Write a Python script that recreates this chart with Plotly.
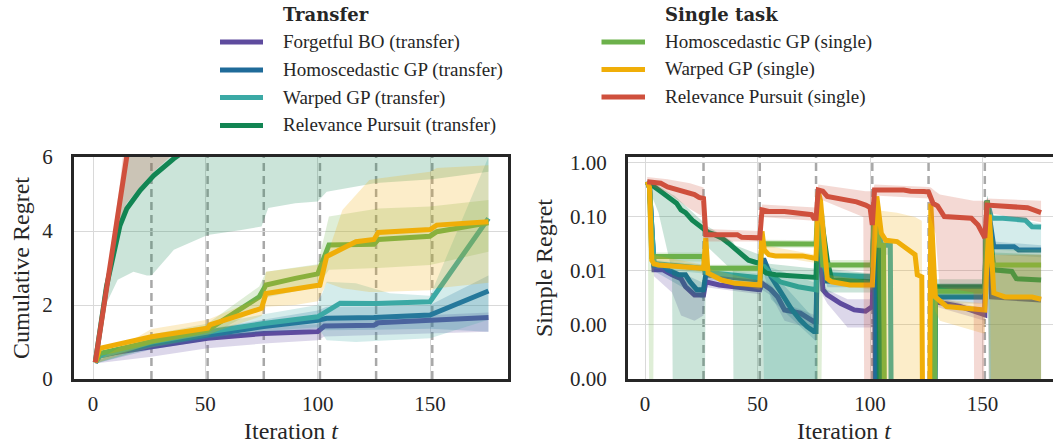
import numpy as np
import plotly.graph_objects as go

W, H = 1053, 446
FONT = "Liberation Serif"
TICK_SIZE = 21
TITLE_SIZE = 24
LEGEND_SIZE = 19

# iteration after which a new task starts
TASK_SWITCHES = [26, 51, 76, 101, 126, 151]

# ---------------- cumulative regret ----------------
CR_T_FBO = [1, 3, 26, 51, 76, 100, 103, 125, 127, 150, 176]
CR_FBO = [0.45, 0.65, 0.87, 1.10, 1.23, 1.28, 1.43, 1.45, 1.52, 1.58, 1.66]
CR_BT_FBO = [1, 26, 51, 76, 100, 103, 126, 150, 176]
CR_LO_FBO = [0.42, 0.60, 0.83, 0.96, 1.05, 1.15, 1.18, 1.23, 1.28]
CR_HI_FBO = [0.48, 1.05, 1.30, 1.42, 1.48, 1.62, 1.66, 1.72, 1.80]

CR_T_HGP = [1, 3, 26, 51, 76, 100, 104, 125, 150, 176]
CR_HGP = [0.45, 0.62, 0.95, 1.20, 1.42, 1.59, 1.64, 1.66, 1.73, 2.38]
CR_BT_HGP = [1, 26, 51, 76, 100, 104, 126, 150, 176]
CR_LO_HGP = [0.42, 0.80, 1.05, 1.25, 1.35, 1.32, 1.33, 1.36, 1.28]
CR_HI_HGP = [0.48, 1.10, 1.35, 1.60, 1.85, 1.95, 1.96, 2.00, 2.80]

CR_T_WGP = [1, 3, 26, 51, 76, 100, 110, 126, 150, 176]
CR_WGP = [0.45, 0.62, 1.00, 1.27, 1.50, 1.68, 2.05, 2.04, 2.09, 4.34]
CR_BT_WGP = [1, 26, 51, 76, 100, 104, 117, 132, 150, 176]
CR_LO_WGP = [0.42, 0.85, 1.10, 1.30, 1.40, 1.05, 1.00, 1.05, 1.10, 1.60]
CR_HI_WGP = [0.48, 1.15, 1.45, 1.75, 2.00, 2.63, 2.59, 2.32, 2.25, 6.00]

CR_T_RPT = [1, 6, 12, 15, 21, 27, 36, 51, 76, 101, 126, 151, 176]
CR_RPT = [0.45, 2.50, 4.15, 4.60, 5.10, 5.50, 5.96, 6.60, 7.50, 8.30, 9.00, 9.60, 10.30]
CR_BT_RPT = [1, 3, 6, 11, 18, 24, 26, 36, 51, 66, 75, 78, 90, 100, 104, 110, 126, 151, 176]
CR_LO_RPT = [0.42, 1.20, 2.05, 2.68, 2.90, 2.80, 2.80, 3.49, 3.89, 4.03, 4.12, 4.62, 4.75,
             4.80, 5.06, 5.12, 5.30, 5.40, 5.60]
CR_HI_RPT = [0.48, 1.25, 2.43, 4.41, 7.2, 9.0, 9.5, 11.0, 12.0, 13.0, 13.5, 14.0, 14.5,
             15.0, 15.5, 16.0, 17.0, 18.0, 19.0]

CR_T_HGS = [1, 3, 26, 51, 74, 77, 90, 100, 105, 125, 127, 150, 153, 176]
CR_HGS = [0.45, 0.69, 1.01, 1.32, 2.22, 2.54, 2.72, 2.84, 3.62, 3.64, 3.77, 3.86, 3.98, 4.22]
CR_BT_HGS = [1, 26, 51, 74, 77, 100, 105, 127, 150, 176]
CR_LO_HGS = [0.42, 0.85, 1.15, 1.90, 2.20, 2.50, 2.95, 3.00, 3.08, 3.44]
CR_HI_HGS = [0.48, 1.20, 1.50, 2.50, 2.90, 3.10, 4.39, 4.61, 4.66, 4.84]

CR_T_WGS = [1, 3, 26, 51, 52, 75, 77, 90, 101, 104, 111, 117, 125, 127, 150, 153, 176]
CR_WGS = [0.45, 0.83, 1.14, 1.37, 1.46, 1.91, 2.31, 2.45, 2.54, 3.31, 3.53, 3.71, 3.77,
          3.96, 4.04, 4.16, 4.25]
CR_BT_WGS = [1, 26, 51, 75, 77, 90, 100, 104, 111, 123, 127, 150, 153, 176]
CR_LO_WGS = [0.42, 0.95, 1.20, 1.70, 1.95, 2.00, 2.10, 2.60, 2.45, 2.35, 2.35, 2.40, 2.45, 2.60]
CR_HI_WGS = [0.48, 1.35, 1.60, 2.20, 2.90, 3.00, 3.08, 3.30, 4.57, 5.38, 5.42, 5.60, 5.70, 5.78]

CR_T_RPS = [1, 15, 26, 51, 76, 101, 126, 151, 176]
CR_RPS = [0.45, 6.0, 9.6, 15.5, 21.0, 26.5, 32.5, 38.0, 44.0]
CR_BT_RPS = [1, 6, 12, 15, 21, 27, 36, 51, 176]
CR_LO_RPS = [0.42, 2.60, 4.30, 4.75, 5.20, 5.60, 6.10, 7.00, 35.0]
CR_HI_RPS = [0.48, 2.70, 5.30, 7.00, 9.50, 12.0, 15.0, 20.0, 55.0]

# ---------------- simple regret ----------------
SR_T_FBO = [1, 2, 4, 8, 12, 16, 18, 20, 22, 26, 27, 33, 40, 51, 52, 56, 59, 62, 69, 72, 75, 76,
            77, 79, 81, 87, 93, 98, 101, 102, 103, 128, 129, 140, 151, 152, 154, 176]
SR_FBO = [0.45, 0.35, 0.0105, 0.0105, 0.0085, 0.0072, 0.0051, 0.0042, 0.0036, 0.0036, 0.0063,
          0.0055, 0.0051, 0.0045, 0.0059, 0.0045, 0.0033, 0.0019, 0.00166, 0.00135, 0.00115,
          0.00115, 0.24, 0.0045, 0.0036, 0.0025, 0.0019, 0.0018, 0.0022, 0.2, 0.0, 0.0, 0.0027,
          0.0022, 0.00155, 0.2, 0.0033, 0.0029]
SR_BT_FBO = [1, 4, 12, 16, 22, 26, 27, 51, 52, 56, 62, 76, 77, 79, 81, 90, 101, 102, 103, 128,
             129, 151, 152, 154, 155, 176]
SR_HI_FBO = [0.5, 0.013, 0.01, 0.009, 0.0045, 0.0045, 0.008, 0.0055, 0.007, 0.0055, 0.0025,
             0.0015, 0.28, 0.006, 0.0045, 0.003, 0.003, 0.25, 0.0, 0.0, 0.0033, 0.002, 0.25,
             0.02, 0.02, 0.02]
SR_LO_FBO = [0.4, 0.008, 0.004, 0.0015, 0.0012, 0.0015, 0.005, 0.0037, 0.0045, 0.0035, 0.0012,
             0.0008, 0.15, 0.0035, 0.0025, 0.0009, 0.0009, 0.12, 0.0, 0.0, 0.0022, 0.0012, 0.12,
             0.0, 0.0, 0.0]

SR_T_HGP = [1, 2, 4, 8, 10, 15, 18, 20, 23, 26, 27, 40, 51, 52, 53, 56, 59, 62, 65, 69, 72, 75,
            76, 77, 79, 81, 101, 102, 103, 128, 129, 151, 152, 155, 164, 166, 176]
SR_HGP = [0.45, 0.35, 0.0129, 0.0129, 0.0105, 0.0085, 0.0085, 0.0063, 0.0045, 0.0045, 0.0085,
          0.0075, 0.0068, 0.0158, 0.0158, 0.0079, 0.0051, 0.0033, 0.002, 0.00123, 0.00093,
          0.00076, 0.00076, 0.24, 0.02, 0.0065, 0.0062, 0.22, 0.0, 0.0, 0.0033, 0.0033, 0.2,
          0.028, 0.028, 0.0245, 0.0245]
SR_BT_HGP = [1, 4, 26, 27, 51, 52, 56, 76, 77, 79, 81, 101, 102, 103, 128, 129, 151, 152, 155, 176]
SR_HI_HGP = [0.5, 0.016, 0.006, 0.01, 0.008, 0.02, 0.01, 0.0012, 0.28, 0.025, 0.008, 0.008,
             0.25, 0.0, 0.0, 0.004, 0.004, 0.25, 0.035, 0.03]
SR_LO_HGP = [0.4, 0.01, 0.003, 0.007, 0.005, 0.012, 0.003, 0.0005, 0.15, 0.015, 0.005, 0.005,
             0.12, 0.0, 0.0, 0.0025, 0.0025, 0.12, 0.02, 0.018]

SR_T_WGP = [1, 2, 4, 26, 27, 51, 52, 53, 56, 60, 68, 76, 77, 79, 81, 101, 102, 105, 109, 110,
            128, 129, 151, 152, 154, 159, 169, 172, 176]
SR_WGP = [0.45, 0.35, 0.0138, 0.0112, 0.0095, 0.0075, 0.012, 0.012, 0.0085, 0.0063, 0.0051,
          0.0045, 0.24, 0.015, 0.0085, 0.0078, 0.2, 0.03, 0.03, 0.0, 0.0, 0.0045, 0.0045, 0.2,
          0.095, 0.095, 0.087, 0.066, 0.065]
SR_BT_WGP = [1, 4, 26, 27, 51, 52, 55, 76, 77, 79, 81, 101, 102, 105, 109, 110, 128, 129, 151,
             152, 154, 176]
SR_HI_WGP = [0.5, 0.016, 0.013, 0.011, 0.009, 0.015, 0.012, 0.006, 0.28, 0.02, 0.01, 0.009,
             0.25, 0.04, 0.04, 0.0, 0.0, 0.006, 0.006, 0.25, 0.11, 0.075]
SR_LO_WGP = [0.4, 0.011, 0.009, 0.008, 0.006, 0.009, 0.0, 0.0, 0.15, 0.008, 0.006, 0.006, 0.12,
             0.02, 0.02, 0.0, 0.0, 0.003, 0.003, 0.12, 0.025, 0.022]

SR_T_RPT = [1, 3, 5, 7, 9, 12, 14, 16, 18, 21, 23, 26, 28, 31, 34, 37, 40, 43, 46, 49, 51, 52,
            54, 58, 76, 77, 79, 81, 83, 101, 102, 104, 105, 128, 129, 151, 152, 155, 163, 165, 176]
SR_RPT = [0.45, 0.40, 0.34, 0.295, 0.26, 0.204, 0.18, 0.135, 0.12, 0.087, 0.075, 0.0575, 0.052,
          0.047, 0.041, 0.033, 0.026, 0.021, 0.0158, 0.0145, 0.0138, 0.0105, 0.0091, 0.0085,
          0.0076, 0.24, 0.066, 0.0158, 0.0068, 0.0063, 0.204, 0.0245, 0.0, 0.0, 0.0051, 0.0051,
          0.2, 0.0105, 0.0098, 0.0072, 0.0068]
SR_BT_RPT = [1, 6, 12, 13, 26, 27, 39, 40, 51, 52, 76, 77, 80, 81, 101, 102, 104, 105, 128, 129,
             151, 152, 155, 176]
SR_HI_RPT = [0.5, 0.38, 0.26, 0.25, 0.08, 0.07, 0.035, 0.03, 0.02, 0.014, 0.011, 0.30, 0.10,
             0.011, 0.009, 0.28, 0.04, 0.0, 0.0, 0.007, 0.007, 0.25, 0.022, 0.02]
SR_LO_RPT = [0.4, 0.12, 0.01, 0.0, 0.0, 0.03, 0.01, 0.0, 0.0, 0.0, 0.0, 0.15, 0.004, 0.004,
             0.004, 0.1, 0.0, 0.0, 0.0, 0.003, 0.003, 0.1, 0.0, 0.0]

SR_T_HGS = [1, 2, 3, 26, 27, 51, 52, 76, 77, 79, 101, 102, 104, 106, 107, 128, 129, 151, 152,
            154, 176]
SR_HGS = [0.45, 0.35, 0.0186, 0.0186, 0.0112, 0.0112, 0.032, 0.0316, 0.25, 0.0129, 0.0129,
          0.2, 0.03, 0.03, 0.0, 0.0, 0.0042, 0.0042, 0.2, 0.0129, 0.0129]
SR_BT_HGS = [1, 3, 4, 26, 27, 51, 52, 76, 77, 79, 101, 102, 104, 106, 107, 128, 129, 151, 152,
             154, 176]
SR_HI_HGS = [0.5, 0.022, 0.022, 0.022, 0.013, 0.013, 0.038, 0.037, 0.3, 0.016, 0.016, 0.25,
             0.035, 0.035, 0.0, 0.0, 0.005, 0.005, 0.25, 0.025, 0.025]
SR_LO_HGS = [0.4, 0.0, 0.015, 0.015, 0.0095, 0.0095, 0.027, 0.027, 0.0, 0.0105, 0.0105, 0.15,
             0.025, 0.025, 0.0, 0.0, 0.0035, 0.0035, 0.15, 0.0, 0.0]

SR_T_WGS = [1, 2, 3, 4, 6, 26, 27, 28, 29, 34, 40, 51, 52, 53, 55, 58, 70, 76, 77, 78, 80, 81,
            83, 91, 101, 103, 105, 107, 112, 115, 120, 121, 123, 124, 126, 127, 129, 134, 151,
            153, 155, 160, 172, 176]
SR_WGS = [0.45, 0.35, 0.0158, 0.0135, 0.0129, 0.0112, 0.041, 0.0091, 0.0087, 0.0068, 0.0059,
          0.0055, 0.054, 0.0245, 0.02, 0.019, 0.019, 0.017, 0.295, 0.2, 0.0214, 0.0072, 0.0063,
          0.0055, 0.0055, 0.24, 0.05, 0.037, 0.035, 0.028, 0.02, 0.0085, 0.0078, 0.0, 0.0,
          0.178, 0.0033, 0.0022, 0.0019, 0.11, 0.0039, 0.0033, 0.0033, 0.003]
SR_BT_WGS = [1, 3, 26, 27, 28, 51, 52, 53, 76, 77, 80, 81, 101, 103, 105, 112, 120, 123, 124,
             126, 127, 129, 131, 150, 151, 153, 155, 176]
SR_HI_WGS = [0.5, 0.02, 0.013, 0.05, 0.011, 0.0065, 0.065, 0.03, 0.02, 0.33, 0.026, 0.0085,
             0.0065, 0.28, 0.13, 0.12, 0.1, 0.085, 0.0, 0.0, 0.2, 0.005, 0.003, 0.0025, 0.0025,
             0.13, 0.02, 0.02]
SR_LO_WGS = [0.4, 0.012, 0.0095, 0.03, 0.0075, 0.0045, 0.04, 0.02, 0.014, 0.25, 0.017, 0.006,
             0.0045, 0.2, 0.0, 0.0, 0.0, 0.0, 0.0, 0.0, 0.15, 0.0018, 0.0012, 0.0007, 0.0007,
             0.09, 0.0, 0.0]

SR_T_RPS = [1, 7, 10, 12, 16, 19, 22, 24, 26, 27, 41, 43, 50, 51, 52, 55, 62, 69, 74, 75, 76,
            77, 79, 81, 90, 94, 98, 100, 101, 102, 115, 118, 124, 126, 128, 130, 133, 145, 148,
            150, 151, 152, 160, 166, 170, 176]
SR_RPS = [0.45, 0.42, 0.36, 0.34, 0.30, 0.28, 0.26, 0.23, 0.22, 0.047, 0.047, 0.042, 0.041,
          0.041, 0.135, 0.126, 0.126, 0.117, 0.11, 0.095, 0.095, 0.316, 0.30, 0.24, 0.204, 0.19,
          0.166, 0.15, 0.071, 0.316, 0.316, 0.30, 0.295, 0.29, 0.178, 0.16, 0.102, 0.095, 0.071,
          0.05, 0.041, 0.166, 0.16, 0.155, 0.148, 0.12]
SR_BT_RPS = [1, 10, 20, 26, 27, 50, 51, 52, 75, 76, 77, 97, 98, 101, 102, 126, 127, 129, 131,
             146, 147, 150, 151, 152, 176]
SR_HI_RPS = [0.55, 0.50, 0.42, 0.35, 0.06, 0.055, 0.055, 0.17, 0.15, 0.15, 0.40, 0.30, 0.30,
             0.30, 0.40, 0.36, 0.35, 0.30, 0.26, 0.20, 0.20, 0.20, 0.20, 0.22, 0.20]
SR_LO_RPS = [0.40, 0.28, 0.14, 0.10, 0.035, 0.035, 0.035, 0.10, 0.085, 0.08, 0.22, 0.10, 0.0,
             0.0, 0.25, 0.22, 0.10, 0.05, 0.005, 0.004, 0.0, 0.0, 0.02, 0.12, 0.08]

METHODS = [
    # key, label, colour
    ("FBO", "Forgetful BO (transfer)", "#5e4b9e"),
    ("HGP", "Homoscedastic GP (transfer)", "#1f6b99"),
    ("WGP", "Warped GP (transfer)", "#3ba9a5"),
    ("RPT", "Relevance Pursuit (transfer)", "#128553"),
    ("HGS", "Homoscedastic GP (single)", "#6cb14b"),
    ("WGS", "Warped GP (single)", "#f0ae08"),
    ("RPS", "Relevance Pursuit (single)", "#cf503d"),
]

G = globals()


def rgba(hex_colour, alpha):
    h = hex_colour.lstrip("#")
    r, g, b = int(h[0:2], 16), int(h[2:4], 16), int(h[4:6], 16)
    return f"rgba({r},{g},{b},{alpha})"


def positive(values):
    # zero regret cannot be shown on a log axis: push it far below the visible range
    a = np.asarray(values, dtype=float)
    return np.where(a > 0, a, 1e-9)


fig = go.Figure()

for key, label, colour in METHODS:
    # cumulative regret panel
    bt = G[f"CR_BT_{key}"]
    fig.add_trace(go.Scatter(
        x=list(bt) + list(bt[::-1]),
        y=list(G[f"CR_HI_{key}"]) + list(G[f"CR_LO_{key}"][::-1]),
        fill="toself", fillcolor=rgba(colour, 0.22), line=dict(width=0),
        mode="lines", hoverinfo="skip", showlegend=False, xaxis="x", yaxis="y"))
    fig.add_trace(go.Scatter(
        x=G[f"CR_T_{key}"], y=G[f"CR_{key}"], mode="lines", name=label,
        line=dict(color=colour, width=5), showlegend=False, xaxis="x", yaxis="y"))

for key, label, colour in METHODS:
    # simple regret panel
    bt = G[f"SR_BT_{key}"]
    hi = positive(G[f"SR_HI_{key}"])
    lo = positive(G[f"SR_LO_{key}"])
    fig.add_trace(go.Scatter(
        x=list(bt) + list(bt[::-1]),
        y=list(hi) + list(lo[::-1]),
        fill="toself", fillcolor=rgba(colour, 0.22), line=dict(width=0),
        mode="lines", hoverinfo="skip", showlegend=False, xaxis="x2", yaxis="y2"))
    fig.add_trace(go.Scatter(
        x=G[f"SR_T_{key}"], y=positive(G[f"SR_{key}"]), mode="lines", name=label,
        line=dict(color=colour, width=5), showlegend=False, xaxis="x2", yaxis="y2"))

# dashed markers where the task changes
for t in TASK_SWITCHES:
    for xr, yr in (("x", "y domain"), ("x2", "y2 domain")):
        fig.add_shape(type="line", xref=xr, yref=yr, x0=t, x1=t, y0=0, y1=1,
                      line=dict(color="#a8a8a8", width=2.5, dash="8px,5px"), layer="below")


def px(x):
    return x / W


def py(y):
    return 1 - y / H


axis_common = dict(
    showline=True, mirror=True, linecolor="#262626", linewidth=3,
    showgrid=True, gridcolor="#d9d9d9", gridwidth=1.3,
    zeroline=False, ticks="",
    tickfont=dict(family=FONT, size=TICK_SIZE, color="#262626"),
)

fig.update_layout(
    template="none",
    width=W, height=H,
    margin=dict(l=0, r=0, t=0, b=0),
    paper_bgcolor="white", plot_bgcolor="white",
    showlegend=False,
    xaxis=dict(domain=[px(74), px(508)], range=[-8.46, 184.7], ticklabelstandoff=4,
               tickvals=[0, 50, 100, 150], anchor="y", **axis_common),
    yaxis=dict(domain=[py(379), py(157)], range=[0, 6], ticklabelstandoff=14,
               tickvals=[0, 2, 4, 6], anchor="x", **axis_common),
    xaxis2=dict(domain=[px(628), 1.0], range=[-7.56, 181.3], ticklabelstandoff=4,
                tickvals=[0, 50, 100, 150], anchor="y2", **axis_common),
    yaxis2=dict(domain=[py(379), py(157)], type="log", range=[-4, 0.11], ticklabelstandoff=14,
                tickvals=[1e-4, 1e-3, 1e-2, 1e-1, 1],
                ticktext=["0.00", "0.00", "0.01", "0.10", "1.00"],
                anchor="x2", **axis_common),
)

text_font = dict(family=FONT, size=TITLE_SIZE, color="#262626")
annotations = [
    dict(text="Cumulative Regret", x=px(21), y=py(268), textangle=-90, yanchor="middle"),
    dict(text="Simple Regret", x=px(544), y=py(268), textangle=-90, yanchor="middle"),
    dict(text="Iteration <i>t</i>", x=px(291), y=0, yanchor="bottom"),
    dict(text="Iteration <i>t</i>", x=px(844), y=0, yanchor="bottom"),
]
for a in annotations:
    fig.add_annotation(xref="paper", yref="paper", showarrow=False,
                       xanchor="center", font=text_font, **a)

# two-column legend: transfer methods and single-task methods
leg_font = dict(family=FONT, size=LEGEND_SIZE, color="#262626")
title_font = dict(family="DejaVu Serif", size=18, color="#262626")
columns = [
    ("Transfer", 220, 263, 281, [42, 70, 97.5, 125.5], METHODS[:4]),
    ("Single task", 601.5, 645, 663, [42, 69.5, 97], METHODS[4:]),
]
for title, lx0, lx1, tx, rows, items in columns:
    fig.add_annotation(xref="paper", yref="paper", x=px(tx), y=py(15), showarrow=False,
                       xanchor="left", yanchor="middle", text=f"<b>{title}</b>", font=title_font)
    for yrow, (key, label, colour) in zip(rows, items):
        fig.add_shape(type="line", xref="paper", yref="paper",
                      x0=px(lx0), x1=px(lx1), y0=py(yrow), y1=py(yrow),
                      line=dict(color=colour, width=5))
        fig.add_annotation(xref="paper", yref="paper", x=px(tx), y=py(yrow), showarrow=False,
                           xanchor="left", yanchor="middle", text=label, font=leg_font)

fig.write_html("out.html")
